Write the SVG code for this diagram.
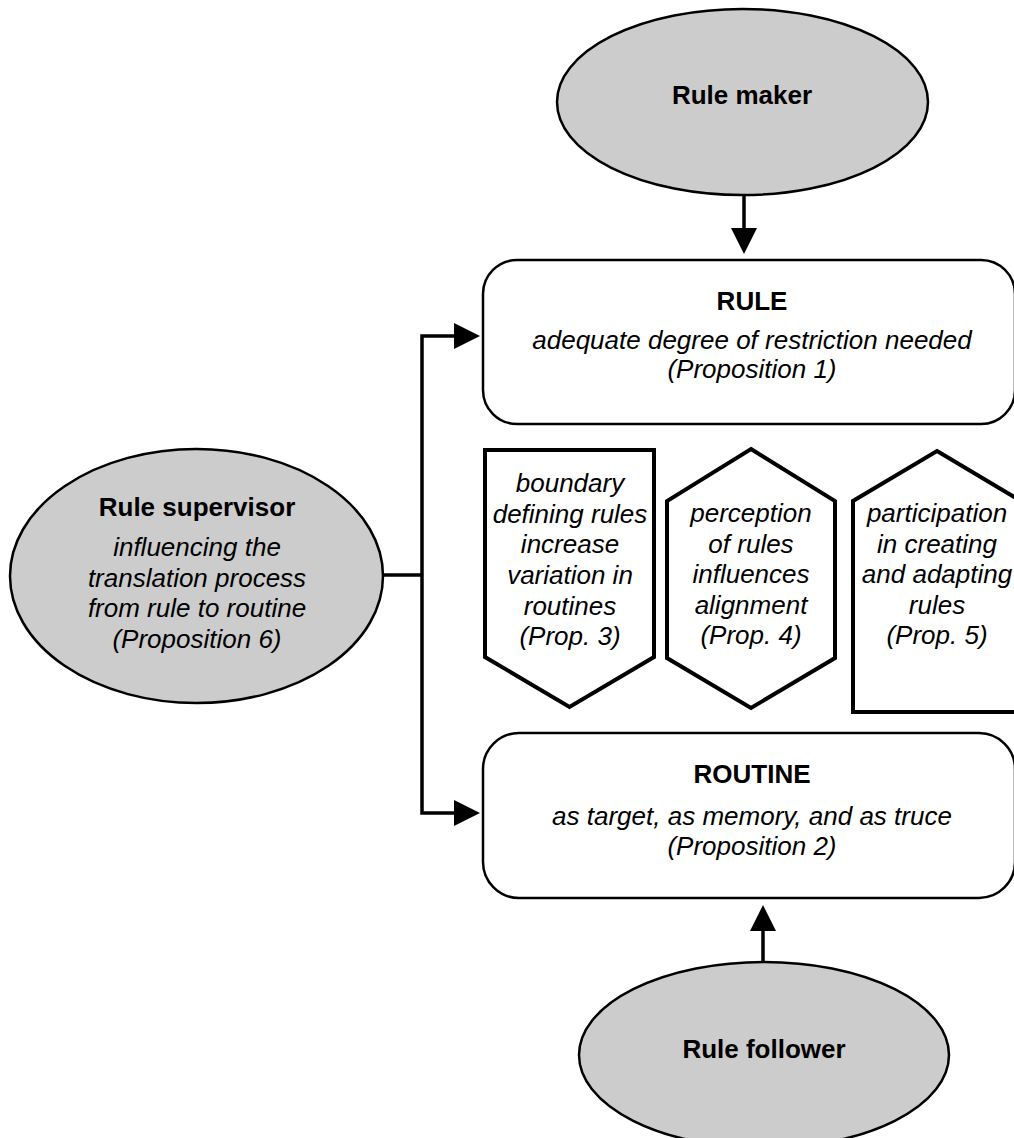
<svg xmlns="http://www.w3.org/2000/svg" width="1014" height="1138" viewBox="0 0 1014 1138">
<style>
  .actor { fill: #cccccc; stroke: #000; stroke-width: 2.5; }
  .box { fill: #fff; stroke: #000; stroke-width: 2.5; }
  .prop { fill: #fff; stroke: #000; stroke-width: 4; stroke-linejoin: miter; }
  .conn { fill: none; stroke: #000; stroke-width: 3.5; stroke-linejoin: miter; }
  .t { font-family: "Liberation Sans", Arial, Helvetica, sans-serif; font-size: 26px; fill: #000; text-anchor: middle; }
  .b { font-weight: bold; }
  .i { font-style: italic; }
</style>
<defs>
  <marker id="arrow" markerUnits="userSpaceOnUse" markerWidth="26" markerHeight="26" viewBox="0 0 24 24" refX="0" refY="12" orient="auto">
    <path d="M0,0 L24,12 L0,24 Z" fill="#000"/>
  </marker>
</defs>

<g id="connectors">
  <path class="conn" d="M744,195 V228" marker-end="url(#arrow)"/>
  <path class="conn" d="M763,962 V931" marker-end="url(#arrow)"/>
  <path class="conn" d="M383,575 H422"/>
  <path class="conn" d="M422,575 V336 H454" marker-end="url(#arrow)"/>
  <path class="conn" d="M422,575 V813 H454" marker-end="url(#arrow)"/>
</g>

<g id="rule-maker">
  <ellipse class="actor" cx="742.5" cy="102" rx="185.5" ry="93"/>
  <text class="t b" x="742" y="104">Rule maker</text>
</g>

<g id="rule">
  <rect class="box" x="483" y="260" width="532" height="164" rx="34" ry="34"/>
  <text class="t b" x="752" y="310">RULE</text>
  <text class="t i" x="752" y="349">adequate degree of restriction needed</text>
  <text class="t i" x="752" y="378">(Proposition 1)</text>
</g>

<g id="prop3">
  <polygon class="prop" points="485,450 654,450 654,657 569.5,707 485,657"/>
  <text class="t i" x="570" y="492">boundary</text>
  <text class="t i" x="570" y="522.6">defining rules</text>
  <text class="t i" x="570" y="553">increase</text>
  <text class="t i" x="570" y="584">variation in</text>
  <text class="t i" x="570" y="614.5">routines</text>
  <text class="t i" x="570" y="645">(Prop. 3)</text>
</g>

<g id="prop4">
  <polygon class="prop" points="751,449 835,501 835,658 751,708 667,658 667,501"/>
  <text class="t i" x="751" y="522">perception</text>
  <text class="t i" x="751" y="552.5">of rules</text>
  <text class="t i" x="751" y="583">influences</text>
  <text class="t i" x="751" y="613.5">alignment</text>
  <text class="t i" x="751" y="644">(Prop. 4)</text>
</g>

<g id="prop5">
  <polygon class="prop" points="937,451 1021,501 1021,712 853,712 853,501"/>
  <text class="t i" x="937" y="522">participation</text>
  <text class="t i" x="937" y="552.5">in creating</text>
  <text class="t i" x="937" y="583">and adapting</text>
  <text class="t i" x="937" y="613.5">rules</text>
  <text class="t i" x="937" y="644">(Prop. 5)</text>
</g>

<g id="routine">
  <rect class="box" x="483" y="733" width="532" height="165" rx="36" ry="36"/>
  <text class="t b" x="752" y="783">ROUTINE</text>
  <text class="t i" x="752" y="825">as target, as memory, and as truce</text>
  <text class="t i" x="752" y="855">(Proposition 2)</text>
</g>

<g id="rule-supervisor">
  <ellipse class="actor" cx="196.5" cy="576" rx="186.5" ry="127"/>
  <text class="t b" x="197" y="516">Rule supervisor</text>
  <text class="t i" x="197" y="556">influencing the</text>
  <text class="t i" x="197" y="587">translation process</text>
  <text class="t i" x="197" y="617">from rule to routine</text>
  <text class="t i" x="197" y="648">(Proposition 6)</text>
</g>

<g id="rule-follower">
  <ellipse class="actor" cx="764" cy="1055" rx="185" ry="93"/>
  <text class="t b" x="764" y="1058">Rule follower</text>
</g>
</svg>
